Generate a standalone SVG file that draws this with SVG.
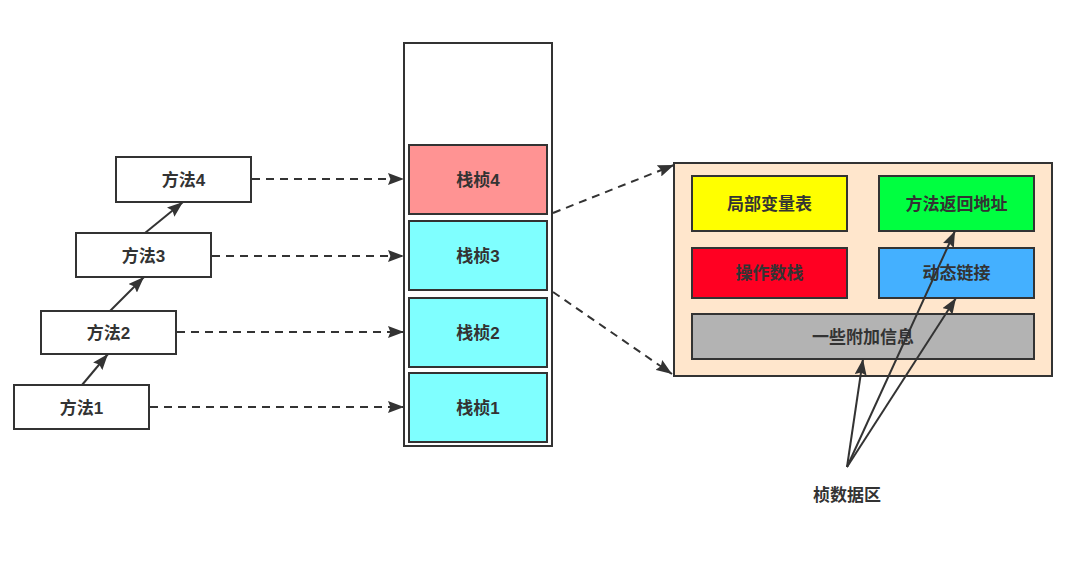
<svg xmlns="http://www.w3.org/2000/svg" width="1080" height="579" viewBox="0 0 1080 579">
<defs>
<style>
.box{stroke:#333;stroke-width:2}
.t{font-family:"Liberation Sans","Noto Sans CJK SC",sans-serif;font-size:17px;font-weight:bold;fill:#333;text-anchor:middle;dominant-baseline:central}
.ln{stroke:#333;stroke-width:2;fill:none}
.dash{stroke-dasharray:8 6}
</style>
<marker id="ah" viewBox="0 0 10 10" refX="10" refY="5" markerWidth="16" markerHeight="12" preserveAspectRatio="none" markerUnits="userSpaceOnUse" orient="auto">
<path d="M0,0 L10,5 L0,10 L1.5,5 Z" fill="#333"/>
</marker>
<marker id="ahb" viewBox="0 0 10 10" refX="10" refY="5" markerWidth="16" markerHeight="12" preserveAspectRatio="none" markerUnits="userSpaceOnUse" orient="auto">
<path d="M0,0 L10,5 L0,10 L1.5,5 Z" fill="#333"/>
</marker>
</defs>
<rect width="1080" height="579" fill="#fff"/>
<g id="stack"><rect class="box" x="404" y="43" width="148" height="403" fill="#fff"/></g>
<g id="m4"><rect class="box" x="116" y="157" width="135" height="45" fill="#fff"/><text class="t" x="183.5" y="180">方法4</text></g>
<g id="m3"><rect class="box" x="76" y="233" width="135" height="44" fill="#fff"/><text class="t" x="143.5" y="256">方法3</text></g>
<g id="m2"><rect class="box" x="41" y="311" width="135" height="43" fill="#fff"/><text class="t" x="108.5" y="333">方法2</text></g>
<g id="m1"><rect class="box" x="14" y="385" width="135" height="44" fill="#fff"/><text class="t" x="81.5" y="408">方法1</text></g>
<g id="f4"><rect class="box" x="409" y="145" width="138" height="69" fill="#FF9393"/><text class="t" x="478" y="180">栈桢4</text></g>
<g id="f3"><rect class="box" x="409" y="221" width="138" height="69" fill="#7FFFFF"/><text class="t" x="478" y="256">栈桢3</text></g>
<g id="f2"><rect class="box" x="409" y="298" width="138" height="69" fill="#7FFFFF"/><text class="t" x="478" y="333">栈桢2</text></g>
<g id="f1"><rect class="box" x="409" y="373" width="138" height="69" fill="#7FFFFF"/><text class="t" x="478" y="408">栈桢1</text></g>
<g id="panel"><rect class="box" x="674" y="163" width="378" height="213" fill="#FFE6CC"/></g>
<g id="lvt"><rect class="box" x="692" y="176" width="155" height="55" fill="#FFFF00"/><text class="t" x="769.5" y="204">局部变量表</text></g>
<g id="ret"><rect class="box" x="879" y="176" width="155" height="55" fill="#00FF40"/><text class="t" x="956.5" y="204">方法返回地址</text></g>
<g id="ops"><rect class="box" x="692" y="248" width="155" height="50" fill="#FF0022"/><text class="t" x="769.5" y="273">操作数栈</text></g>
<g id="dyn"><rect class="box" x="879" y="248" width="155" height="50" fill="#44B0FF"/><text class="t" x="956.5" y="273">动态链接</text></g>
<g id="extra"><rect class="box" x="692" y="314" width="342" height="45" fill="#B3B3B3"/><text class="t" x="863" y="337">一些附加信息</text></g>
<g id="lbl"><text class="t" x="847" y="495">桢数据区</text></g>
<g id="connectors">
<line class="ln" x1="82" y1="385" x2="108" y2="354" marker-end="url(#ahb)"/>
<line class="ln" x1="110" y1="311" x2="144" y2="277" marker-end="url(#ahb)"/>
<line class="ln" x1="145" y1="233" x2="183" y2="202" marker-end="url(#ahb)"/>
<line class="ln dash" x1="252" y1="179" x2="404" y2="179" marker-end="url(#ah)"/>
<line class="ln dash" x1="212" y1="256" x2="404" y2="256" marker-end="url(#ah)"/>
<line class="ln dash" x1="177" y1="332" x2="404" y2="332" marker-end="url(#ah)"/>
<line class="ln dash" x1="150" y1="407" x2="404" y2="407" marker-end="url(#ah)"/>
<line class="ln dash" x1="553" y1="213" x2="674" y2="165" marker-end="url(#ah)"/>
<line class="ln dash" x1="553" y1="292" x2="672" y2="374" marker-end="url(#ah)"/>
<line class="ln" x1="847" y1="467" x2="863" y2="359" marker-end="url(#ahb)"/>
<line class="ln" x1="847" y1="467" x2="955" y2="231" marker-end="url(#ahb)"/>
<line class="ln" x1="847" y1="467" x2="956" y2="298" marker-end="url(#ahb)"/>
</g>
</svg>
